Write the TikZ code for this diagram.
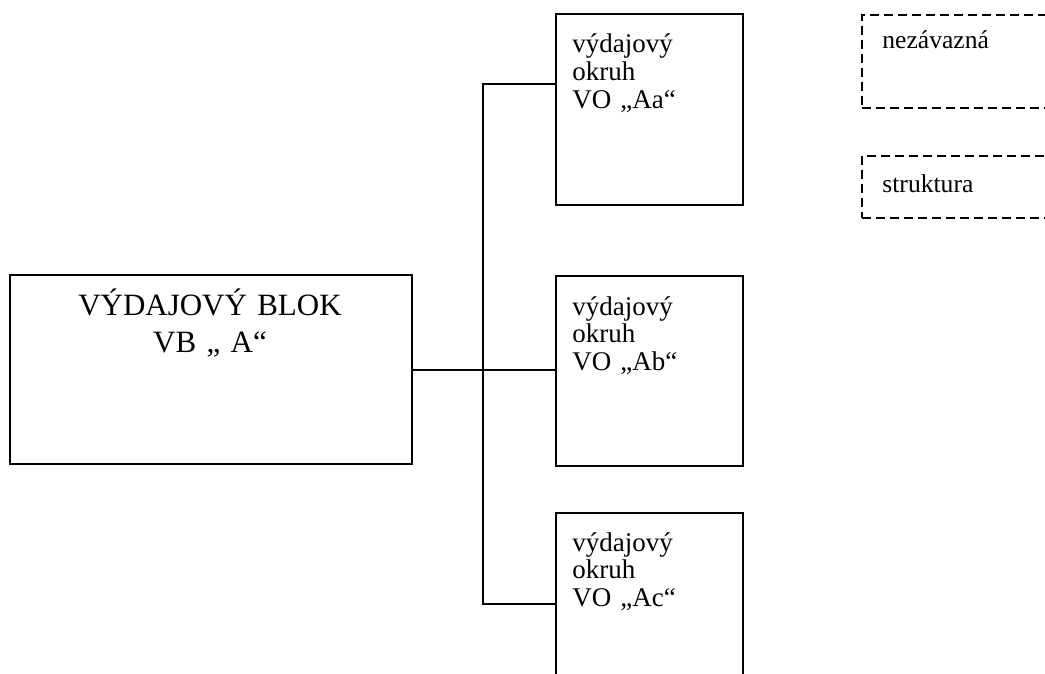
\documentclass[tikz,border=0pt]{standalone}
\usepackage{fontspec}
\setmainfont{Liberation Serif}

\begin{document}
\begin{tikzpicture}[x=0.5pt,y=-0.5pt,
    box/.style={draw,line width=1pt,inner sep=0pt,anchor=north west},
    dbox/.style={box,dash pattern=on 4.5pt off 2.5pt},
    conn/.style={line width=1pt},
    big/.style={font=\fontsize{15.5}{18.5}\selectfont,text width=200pt,align=center,anchor=base,inner sep=0pt},
    small/.style={font=\fontsize{13.5}{13.8}\selectfont,text width=85pt,align=left,anchor=base west,inner sep=0pt},
    note/.style={font=\fontsize{12.8}{13.5}\selectfont,anchor=base west,inner sep=0pt}]
        \useasboundingbox (0,0) rectangle (1045,674);
        % boxes
        \node[box,minimum width=201pt,minimum height=94.5pt] (vb) at (9,274) {};
        \node[box,minimum width=93.5pt,minimum height=95.5pt] (aa) at (555,13) {};
        \node[box,minimum width=93.5pt,minimum height=95pt] (ab) at (555,275) {};
        \node[box,minimum width=93.5pt,minimum height=100pt] (ac) at (555,512) {};
        \node[dbox,minimum width=100pt,minimum height=46.5pt] (nz) at (861,14) {};
        \node[dbox,minimum width=100pt,minimum height=31pt] (st) at (861,155) {};
        % texts
        \node[big] (vbtext) at (210,315) {VÝDAJOVÝ BLOK\\VB „ A“};
        \node[small] (aatext) at (572,53) {výdajový\\okruh\\VO „Aa“};
        \node[small] (abtext) at (572,315) {výdajový\\okruh\\VO „Ab“};
        \node[small] (actext) at (572,551) {výdajový\\okruh\\VO „Ac“};
        \node[note] (nztext) at (882,49) {nezávazná};
        \node[note] (sttext) at (882,192) {struktura};
        % connectors
        \coordinate (trtop) at (483,84);
        \coordinate (trbot) at (483,604);
        \draw[conn] (vb.east) -- (vb.east -| ab.west);
        \draw[conn] (aa.west |- trtop) -- (trtop) -- (trbot) -- (ac.west |- trbot);
    \end{tikzpicture}
\end{document}
